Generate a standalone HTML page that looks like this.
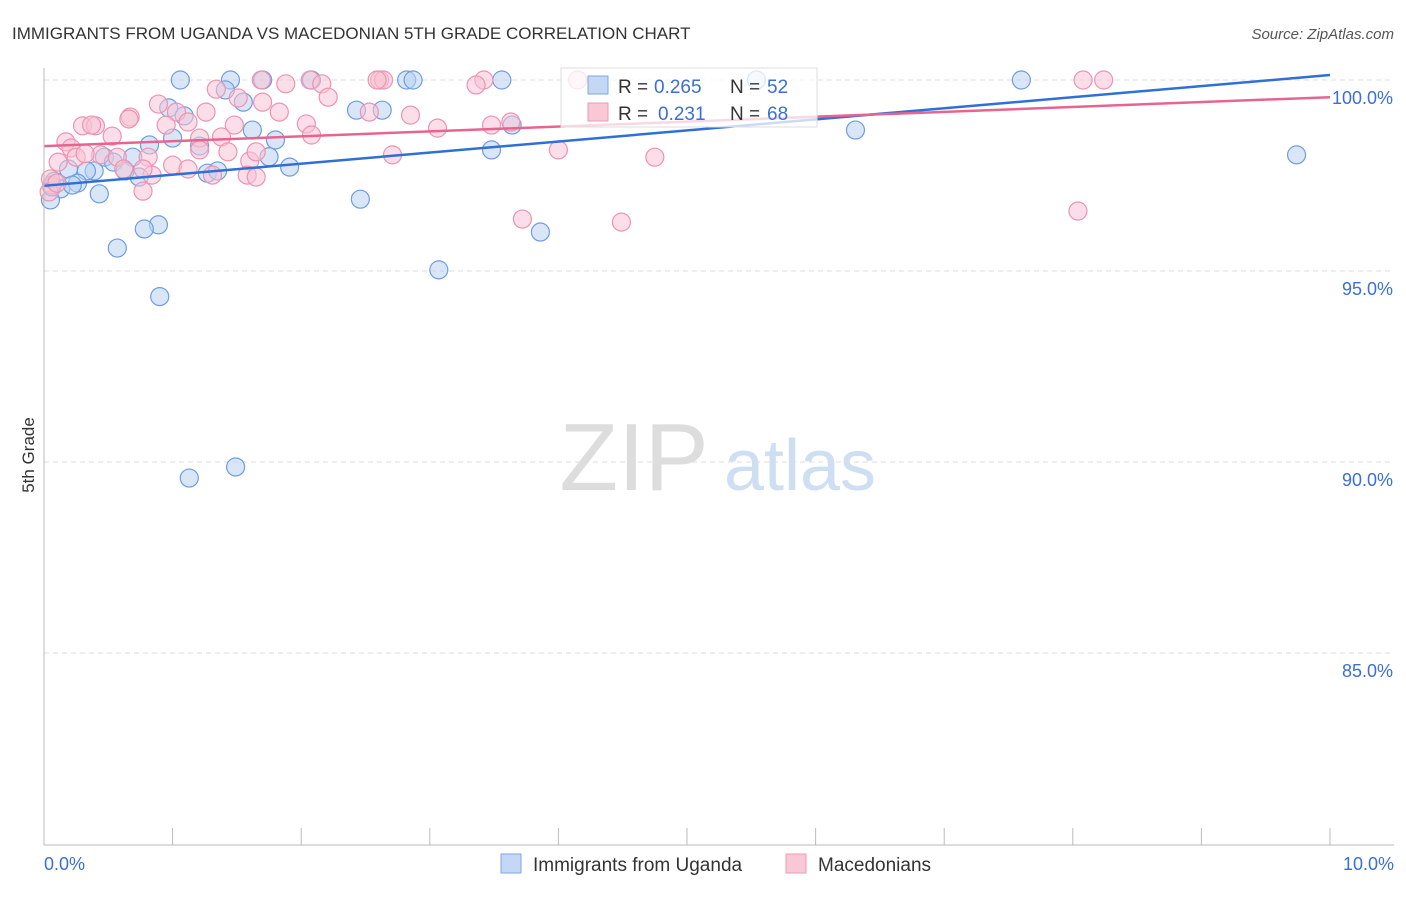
<!DOCTYPE html>
<html><head><meta charset="utf-8"><style>
body{margin:0;background:#fff;font-family:"Liberation Sans",sans-serif;}
svg text{font-family:"Liberation Sans",sans-serif;}
</style></head><body>
<svg id="c" width="1406" height="892" xmlns="http://www.w3.org/2000/svg">
<text x="12" y="39" font-size="17" fill="#333">IMMIGRANTS FROM UGANDA VS MACEDONIAN 5TH GRADE CORRELATION CHART</text>
<text x="1394" y="39" font-size="15" fill="#555" text-anchor="end" font-style="italic">Source: ZipAtlas.com</text>
<text x="634" y="490" font-size="96" fill="#ddd" font-family="Liberation Serif" text-anchor="middle">ZIP</text>
<text x="800" y="490" font-size="72" fill="#cfdff3" text-anchor="middle">atlas</text>
<text x="34" y="455" font-size="17" fill="#333" text-anchor="middle" transform="rotate(-90 34 455)">5th Grade</text>
<g id="grid"></g><g id="pts"></g><g id="lines"></g>
<line x1="44" y1="68" x2="44" y2="845" stroke="#bbb"/>
<line x1="44" y1="845" x2="1394" y2="845" stroke="#bbb"/>
<text x="44" y="870" font-size="18" fill="#3b6fd6">0.0%</text>
<text x="1394" y="870" font-size="18" fill="#3b6fd6" text-anchor="end">10.0%</text>
<g>
<rect x="561" y="68" width="256" height="59" fill="#fff" fill-opacity="0.75" stroke="#ddd"/>
<rect x="588" y="76" width="20" height="18" fill="#c4d8f5" stroke="#7fa5e0"/>
<text x="618" y="93" font-size="19" fill="#333">R =</text>
<text x="654" y="93" font-size="19" fill="#3b6fd6">0.265</text>
<text x="730" y="93" font-size="19" fill="#333">N =</text>
<text x="767" y="93" font-size="19" fill="#3b6fd6">52</text>
<rect x="588" y="103" width="20" height="18" fill="#f8c8d6" stroke="#ec9ab3"/>
<text x="618" y="120" font-size="19" fill="#333">R =</text>
<text x="658" y="120" font-size="19" fill="#3b6fd6">0.231</text>
<text x="730" y="120" font-size="19" fill="#333">N =</text>
<text x="767" y="120" font-size="19" fill="#3b6fd6">68</text>
</g>
<g>
<rect x="501" y="854" width="20" height="19" fill="#c4d8f5" stroke="#7fa5e0"/>
<text x="533" y="871" font-size="19" fill="#333">Immigrants from Uganda</text>
<rect x="786" y="854" width="20" height="19" fill="#f8c8d6" stroke="#ec9ab3"/>
<text x="818" y="871" font-size="19" fill="#333">Macedonians</text>
</g>
</svg>
<script>
const yTicks=[100,95,90,85];
const xTicks=[0,1,2,3,4,5,6,7,8,9,10];
const blueX=[1.06,1.45,1.70,2.08,2.82,2.87,3.56,5.54,7.60,1.41,0.97,1.09,2.43,2.63,1.55,1.62,0.82,1.21,1.00,1.80,6.31,3.64,3.48,1.75,1.91,0.47,0.69,0.39,0.33,0.19,0.54,0.63,0.74,1.27,1.35,0.08,0.13,0.26,0.22,0.05,0.43,9.74,2.46,3.86,0.89,0.78,0.57,0.90,3.07,1.49,1.13,0.06];
const blueY=[100,100,100,100,100,100,100,100,100,99.74,99.27,99.06,99.21,99.21,99.42,98.69,98.30,98.27,98.48,98.43,98.69,98.82,98.17,97.99,97.72,97.98,97.98,97.62,97.62,97.67,97.85,97.62,97.46,97.56,97.62,97.35,97.15,97.30,97.25,96.86,97.02,98.04,96.88,96.02,96.21,96.10,95.60,94.33,95.03,89.87,89.58,97.20];
const pinkX=[1.69,2.07,2.16,2.61,2.64,1.88,2.59,3.42,3.36,4.15,8.08,8.24,1.34,1.51,1.70,2.21,1.83,0.89,1.03,1.26,1.12,0.67,1.48,0.95,0.66,2.04,2.53,2.85,3.06,3.63,3.48,0.30,0.40,0.37,0.53,0.17,0.21,1.21,1.38,1.21,2.08,0.25,0.44,0.57,0.81,1.00,1.12,1.31,1.60,0.62,0.84,0.77,1.43,2.71,4.00,4.75,1.65,1.58,0.77,0.11,0.06,0.05,0.04,3.72,4.49,8.04,0.10,0.32,1.65];
const pinkY=[100,100,99.9,100,100,99.9,100,100,99.87,100,100,100,99.76,99.53,99.42,99.55,99.16,99.37,99.16,99.16,98.90,99.03,98.82,98.82,98.98,98.85,99.16,99.08,98.74,98.90,98.82,98.80,98.80,98.82,98.53,98.38,98.22,98.48,98.51,98.17,98.56,97.98,98.04,97.98,97.98,97.77,97.67,97.51,97.88,97.67,97.51,97.67,98.12,98.04,98.17,97.98,98.12,97.51,97.09,97.85,97.25,97.41,97.07,96.36,96.28,96.57,97.30,98.07,97.46];
const blueTrend=[97.23,100.13];
const pinkTrend=[98.27,99.55];
const NS="http://www.w3.org/2000/svg";
const sx=v=>44+v/10*1286;
const sy=v=>80+(100-v)*38.2;
function mk(t,a,p){const e=document.createElementNS(NS,t);for(const k in a)e.setAttribute(k,a[k]);p.appendChild(e);return e;}
const grid=document.getElementById('grid');
yTicks.forEach(t=>{
 const l=mk('line',{x1:44,x2:1394,y1:sy(t),y2:sy(t),stroke:'#ddd','stroke-dasharray':'5,4'},grid);
 
 
 const tx=mk('text',{x:1393,y:sy(t)+24,'font-size':18,fill:'#3b6fd6','text-anchor':'end'},grid);
 tx.textContent=t.toFixed(1)+'%';
 
 
});
xTicks.forEach(t=>{
 const l=mk('line',{x1:sx(t),x2:sx(t),y1:828,y2:845,stroke:'#bbb'},grid);
 
 
});
const pts=document.getElementById('pts');
function draw(X,Y,fill,stroke,name){X.forEach((x,i)=>{
 const c=mk('circle',{cx:sx(x),cy:sy(Y[i]),r:9,fill:fill,'fill-opacity':0.55,stroke:stroke,'stroke-width':1.2},pts);
 
 
});}
draw(blueX,blueY,'#b9d2f3','#6f9de0','uganda-point');
draw(pinkX,pinkY,'#f8c3d3','#ec94b0','macedonian-point');
const lines=document.getElementById('lines');
const bl=mk('line',{x1:sx(0),y1:sy(blueTrend[0]),x2:sx(10),y2:sy(blueTrend[1]),stroke:'#2f6fd8','stroke-width':2.5},lines);


const pl=mk('line',{x1:sx(0),y1:sy(pinkTrend[0]),x2:sx(10),y2:sy(pinkTrend[1]),stroke:'#e8648f','stroke-width':2.5},lines);


</script>
</body></html>
